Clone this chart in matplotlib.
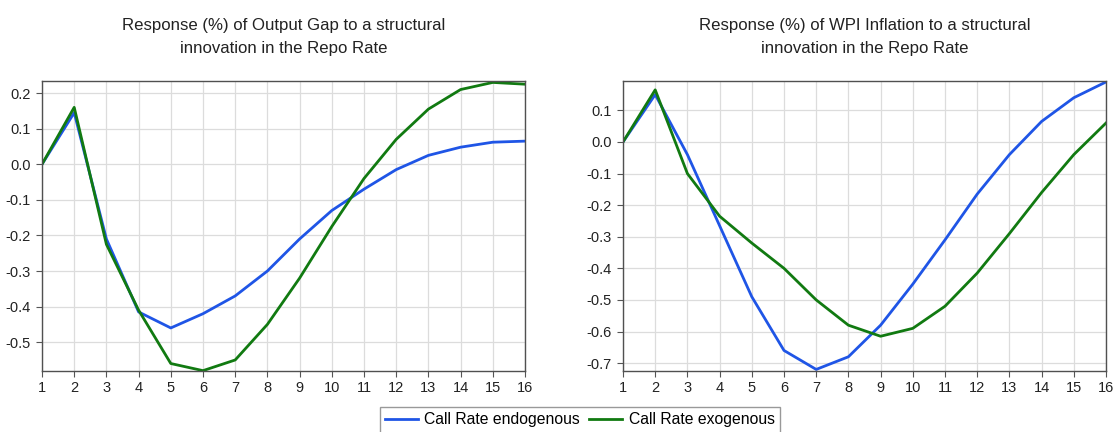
import matplotlib
matplotlib.use("Agg")
import matplotlib.pyplot as plt

plt.rcParams['font.family'] = ['Liberation Sans', 'DejaVu Sans']

periods = list(range(1, 17))
gap_endo = [0.0, 0.145, -0.21, -0.415, -0.46, -0.42, -0.37, -0.30, -0.21, -0.13, -0.07, -0.015, 0.025, 0.048, 0.062, 0.065]
gap_exo = [0.0, 0.16, -0.225, -0.41, -0.56, -0.58, -0.55, -0.45, -0.32, -0.175, -0.04, 0.07, 0.155, 0.21, 0.23, 0.225]
wpi_endo = [0.0, 0.15, -0.04, -0.265, -0.49, -0.66, -0.72, -0.68, -0.58, -0.45, -0.31, -0.165, -0.04, 0.065, 0.14, 0.19]
wpi_exo = [0.0, 0.165, -0.10, -0.235, -0.32, -0.40, -0.50, -0.58, -0.615, -0.59, -0.52, -0.415, -0.29, -0.16, -0.04, 0.06]

titles = ["Response (%) of Output Gap to a structural\ninnovation in the Repo Rate",
          "Response (%) of WPI Inflation to a structural\ninnovation in the Repo Rate"]
yticks_left = [0.2, 0.1, 0.0, -0.1, -0.2, -0.3, -0.4, -0.5]
yticks_right = [0.1, 0.0, -0.1, -0.2, -0.3, -0.4, -0.5, -0.6, -0.7]
labels = ["Call Rate endogenous", "Call Rate exogenous"]

BLUE = "#1f55e6"
GREEN = "#117a11"

W, H = 1113, 432
fig = plt.figure(figsize=(W / 100, H / 100), dpi=100)
ax1 = fig.add_axes([42 / W, 61 / H, 483 / W, 290 / H])
ax2 = fig.add_axes([623 / W, 61 / H, 483 / W, 290 / H])

specs = [
    (ax1, gap_endo, gap_exo, titles[0], yticks_left, (-0.581, 0.234)),
    (ax2, wpi_endo, wpi_exo, titles[1], yticks_right, (-0.725, 0.193)),
]
lines = []
for ax, endo, exo, title, yt, ylim in specs:
    l1, = ax.plot(periods, endo, color=BLUE, lw=2, label=labels[0])
    l2, = ax.plot(periods, exo, color=GREEN, lw=2, label=labels[1])
    lines = [l1, l2]
    ax.set_xlim(1, 16)
    ax.set_ylim(*ylim)
    ax.set_xticks(periods)
    ax.set_yticks(yt)
    ax.set_yticklabels([f"{v:.1f}" for v in yt])
    ax.grid(True, color="#dcdcdc", lw=0.9)
    ax.set_axisbelow(True)
    for s in ax.spines.values():
        s.set_color("#505050")
        s.set_linewidth(1.0)
    ax.tick_params(axis="both", labelsize=10.5, colors="#555555", length=4, width=0.8,
                   labelcolor="#222222")
    ax.tick_params(axis="y", pad=4)
    ax.tick_params(axis="x", pad=3)
    ax.set_title(title, fontsize=12.1, color="#222222", pad=20, linespacing=1.7)

fig.legend(lines, labels, loc="lower center", bbox_to_anchor=(0.521, -0.02), ncol=2,
           fontsize=11.3, frameon=True, fancybox=False, edgecolor="#808080",
           handlelength=2.1, columnspacing=0.6, handletextpad=0.4, borderpad=0.35)

fig.savefig("out.png", dpi=100)
